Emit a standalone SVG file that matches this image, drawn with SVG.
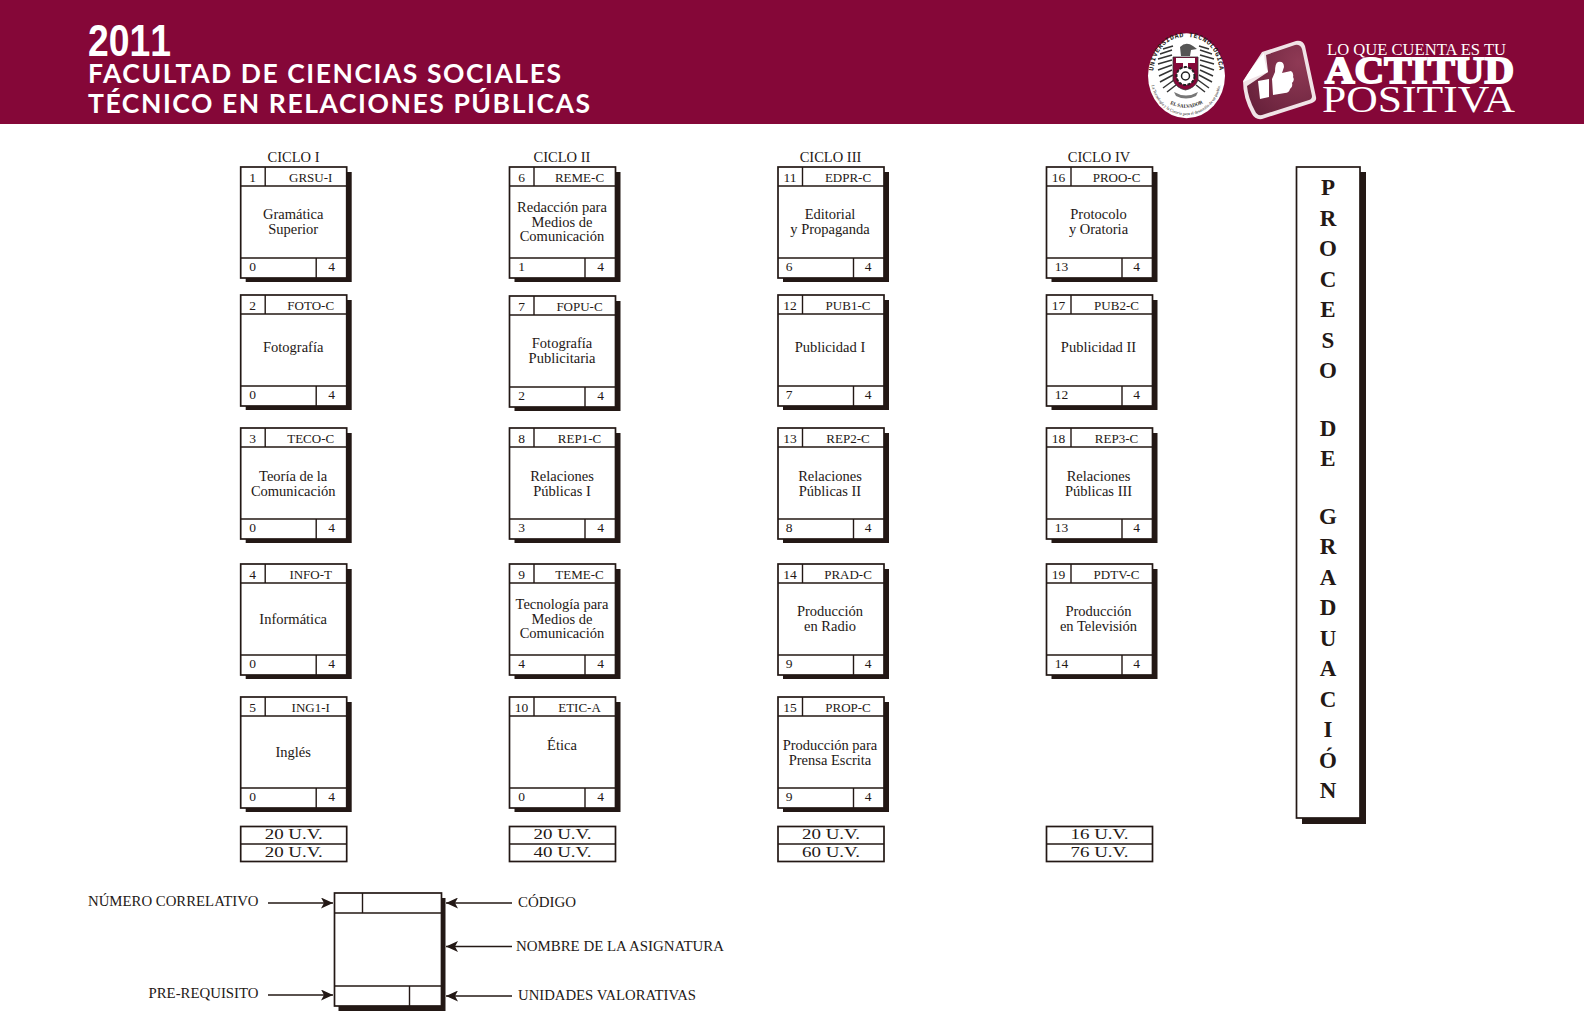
<svg xmlns="http://www.w3.org/2000/svg" width="1584" height="1015" viewBox="0 0 1584 1015">
<style>
text{font-family:"Liberation Serif","Times New Roman",serif;fill:#231815;text-anchor:middle;font-size:14.5px}
.c{font-size:13px}
.n{font-size:13.5px}
.lg{font-size:14px;text-anchor:start}
.tot{font-size:15px}
.bn{font-size:23px;font-weight:bold}
.ln{stroke:#231815;stroke-width:1.4;fill:none}
.fr{stroke:#231815;stroke-width:1.7;fill:#fff}
.sh{fill:#231815}
.hd{font-family:"Lato","Open Sans",sans-serif;font-weight:700;font-size:26.500px;fill:#fff;text-anchor:start}
.wh{fill:#fff;text-anchor:start}
.ar{stroke:#231815;stroke-width:1.5;fill:none;marker-end:url(#ah)}
.fe{stroke:#333;stroke-width:1.500;fill:none}
</style>
<defs>
<marker id="ah" markerUnits="userSpaceOnUse" markerWidth="13" markerHeight="11" refX="12" refY="5.5" orient="auto"><path d="M0 0L12 5.5L0 11L3 5.5Z" fill="#231815"/></marker>
<g id="box">
<rect class="sh" x="5" y="5" width="106" height="110"/>
<rect class="fr" width="106" height="111"/>
<path class="ln" d="M0 19H106M24.5 0V19M0 91H106M75.5 91V111"/>
</g>
<g id="tot"><rect class="fr" width="106" height="35"/><path class="ln" d="M0 17.5H106"/></g>
<radialGradient id="st" cx="0.8" cy="0.25" r="1"><stop offset="0" stop-color="#8f3a55"/><stop offset="1" stop-color="#66203a"/></radialGradient>
<path id="arcT" d="M1153 78C1153 50 1167 37 1186 37C1206 37 1220 50 1220 78"/>
<path id="arcB" d="M1150 72C1150 100 1168 117 1190 115C1206 113 1222 100 1222 72"/>
<path id="arcS" d="M1168 103Q1187 113 1205 102"/>
</defs>
<rect id="banner" width="1584" height="124" fill="#850738"/>
<text x="88" y="56" class="wh" style="font-family:'Liberation Sans Narrow','Liberation Sans',sans-serif;font-weight:700;font-size:45px;font-kerning:none" textLength="83" lengthAdjust="spacingAndGlyphs">2011</text>
<text x="88" y="83" class="hd" textLength="473" lengthAdjust="spacing">FACULTAD DE CIENCIAS SOCIALES</text>
<text x="88" y="112.500" class="hd" textLength="502" lengthAdjust="spacing">TÉCNICO EN RELACIONES PÚBLICAS</text>

<g id="seal">
<ellipse cx="1186.500" cy="75.700" rx="38.500" ry="42.500" fill="#fff"/>
<text style="font-size:6.800px;font-weight:bold;letter-spacing:.5px;font-family:'Liberation Mono',monospace"><textPath href="#arcT" startOffset="50%">UNIVERSIDAD TECNOLOGICA</textPath></text>
<text style="font-size:4.200px"><textPath href="#arcB" startOffset="50%">La Tecnología y la Ciencia para el desarrollo de un pueblo.</textPath></text>
<text style="font-size:5px;font-weight:bold"><textPath href="#arcS" startOffset="50%">EL SALVADOR</textPath></text>
<path class="fe" d="M1173 46L1163 49M1172 50L1160 54M1172 55L1158 59M1172 60L1158 64M1172 65L1158 70M1172 70L1159 76M1173 75L1160 82M1174 80L1163 88M1176 85L1167 92"/>
<path class="fe" d="M1199 46L1209 49M1200 50L1212 54M1200 55L1214 59M1200 60L1214 64M1200 65L1214 70M1200 70L1213 76M1199 75L1212 82M1198 80L1209 88M1196 85L1205 92"/>
<path d="M1180 47Q1186 41 1193 46L1197 49L1191 50L1190 56H1181Z" fill="#555"/>
<path d="M1173 57H1198V80Q1195 88 1185.500 90Q1176 88 1173 80Z" fill="#850738" stroke="#333" stroke-width=".8"/>
<path d="M1176 58H1195V63H1188V67H1183V63H1176Z" fill="#fff"/>
<circle cx="1185.500" cy="76" r="9" fill="#fff" stroke="#222" stroke-width="2" stroke-dasharray="3 1.500"/>
<circle cx="1185.500" cy="76" r="4" fill="none" stroke="#222" stroke-width="1.500"/>
<path d="M1174 92Q1186 99 1198 92L1196 96Q1186 101 1176 96Z" fill="#777"/>
</g>
<g id="sticker">
<path d="M1262 52L1296 41Q1303 40 1305 46L1316 97Q1317 101 1312 103L1262 119Q1255 120 1252 114Q1243 98 1243 81Z" fill="#f0e3e6"/>
<path d="M1266 55L1295 45Q1300 44 1302 49L1312 96Q1312 99 1309 100L1262 115Q1257 116 1255 111Q1248 98 1247 86L1268 72Z" fill="url(#st)"/>
<path d="M1264 53Q1252 66 1243 82Q1258 76 1268 72Q1264 62 1264 53Z" fill="#fff"/>
<path d="M1258 81L1269 79V97L1260 99ZM1272 79L1275 72Q1275 63 1278 62Q1284 61 1284 67L1282 73L1291 71Q1294 73 1293 77Q1295 80 1292 83Q1293 87 1290 89Q1289 93 1285 93L1273 95Z" fill="#fff"/>
</g>
<text x="1327" y="55" class="wh" style="font-size:17.500px" textLength="179" lengthAdjust="spacingAndGlyphs">LO QUE CUENTA ES TU</text>
<text x="1325" y="83" class="wh" style="font-size:37px;font-weight:bold;stroke:#fff;stroke-width:1.800" textLength="189" lengthAdjust="spacingAndGlyphs">ACTITUD</text>
<text x="1322" y="112" class="wh" style="font-size:38px" textLength="193" lengthAdjust="spacingAndGlyphs">POSITIVA</text>

<g id="headers">
<text x="293.500" y="162">CICLO I</text>
<text x="562" y="162">CICLO II</text>
<text x="830.500" y="162">CICLO III</text>
<text x="1099" y="162">CICLO IV</text>
</g>

<g id="n1" transform="translate(240.700 167)"><use href="#box"/><text class="n" x="12" y="14.500">1</text><text class="c" x="70" y="14.500">GRSU-I</text><text x="52.500" y="52">Gramática</text><text x="52.500" y="67">Superior</text><text class="n" x="12" y="104">0</text><text class="n" x="91" y="104">4</text></g>
<g id="n2" transform="translate(240.700 295)"><use href="#box"/><text class="n" x="12" y="14.500">2</text><text class="c" x="70" y="14.500">FOTO-C</text><text x="52.500" y="57">Fotografía</text><text class="n" x="12" y="104">0</text><text class="n" x="91" y="104">4</text></g>
<g id="n3" transform="translate(240.700 428)"><use href="#box"/><text class="n" x="12" y="14.500">3</text><text class="c" x="70" y="14.500">TECO-C</text><text x="52.500" y="53">Teoría de la</text><text x="52.500" y="68">Comunicación</text><text class="n" x="12" y="104">0</text><text class="n" x="91" y="104">4</text></g>
<g id="n4" transform="translate(240.700 564)"><use href="#box"/><text class="n" x="12" y="14.500">4</text><text class="c" x="70" y="14.500">INFO-T</text><text x="52.500" y="60">Informática</text><text class="n" x="12" y="104">0</text><text class="n" x="91" y="104">4</text></g>
<g id="n5" transform="translate(240.700 697)"><use href="#box"/><text class="n" x="12" y="14.500">5</text><text class="c" x="70" y="14.500">ING1-I</text><text x="52.500" y="60">Inglés</text><text class="n" x="12" y="104">0</text><text class="n" x="91" y="104">4</text></g>

<g id="n6" transform="translate(509.500 167)"><use href="#box"/><text class="n" x="12" y="14.500">6</text><text class="c" x="70" y="14.500">REME-C</text><text x="52.500" y="45">Redacción para</text><text x="52.500" y="60">Medios de</text><text x="52.500" y="74">Comunicación</text><text class="n" x="12" y="104">1</text><text class="n" x="91" y="104">4</text></g>
<g id="n7" transform="translate(509.500 296)"><use href="#box"/><text class="n" x="12" y="14.500">7</text><text class="c" x="70" y="14.500">FOPU-C</text><text x="52.500" y="52">Fotografía</text><text x="52.500" y="67">Publicitaria</text><text class="n" x="12" y="104">2</text><text class="n" x="91" y="104">4</text></g>
<g id="n8" transform="translate(509.500 428)"><use href="#box"/><text class="n" x="12" y="14.500">8</text><text class="c" x="70" y="14.500">REP1-C</text><text x="52.500" y="53">Relaciones</text><text x="52.500" y="68">Públicas I</text><text class="n" x="12" y="104">3</text><text class="n" x="91" y="104">4</text></g>
<g id="n9" transform="translate(509.500 564)"><use href="#box"/><text class="n" x="12" y="14.500">9</text><text class="c" x="70" y="14.500">TEME-C</text><text x="52.500" y="45">Tecnología para</text><text x="52.500" y="60">Medios de</text><text x="52.500" y="74">Comunicación</text><text class="n" x="12" y="104">4</text><text class="n" x="91" y="104">4</text></g>
<g id="n10" transform="translate(509.500 697)"><use href="#box"/><text class="n" x="12" y="14.500">10</text><text class="c" x="70" y="14.500">ETIC-A</text><text x="52.500" y="53">Ética</text><text class="n" x="12" y="104">0</text><text class="n" x="91" y="104">4</text></g>

<g id="n11" transform="translate(778 167)"><use href="#box"/><text class="n" x="12" y="14.500">11</text><text class="c" x="70" y="14.500">EDPR-C</text><text x="52" y="52">Editorial</text><text x="52" y="67">y Propaganda</text><text class="n" x="11" y="104">6</text><text class="n" x="90" y="104">4</text></g>
<g id="n12" transform="translate(778 295)"><use href="#box"/><text class="n" x="12" y="14.500">12</text><text class="c" x="70" y="14.500">PUB1-C</text><text x="52" y="57">Publicidad I</text><text class="n" x="11" y="104">7</text><text class="n" x="90" y="104">4</text></g>
<g id="n13" transform="translate(778 428)"><use href="#box"/><text class="n" x="12" y="14.500">13</text><text class="c" x="70" y="14.500">REP2-C</text><text x="52" y="53">Relaciones</text><text x="52" y="68">Públicas II</text><text class="n" x="11" y="104">8</text><text class="n" x="90" y="104">4</text></g>
<g id="n14" transform="translate(778 564)"><use href="#box"/><text class="n" x="12" y="14.500">14</text><text class="c" x="70" y="14.500">PRAD-C</text><text x="52" y="52">Producción</text><text x="52" y="67">en Radio</text><text class="n" x="11" y="104">9</text><text class="n" x="90" y="104">4</text></g>
<g id="n15" transform="translate(778 697)"><use href="#box"/><text class="n" x="12" y="14.500">15</text><text class="c" x="70" y="14.500">PROP-C</text><text x="52" y="53">Producción para</text><text x="52" y="68">Prensa Escrita</text><text class="n" x="11" y="104">9</text><text class="n" x="90" y="104">4</text></g>

<g id="n16" transform="translate(1046.500 167)"><use href="#box"/><text class="n" x="12" y="14.500">16</text><text class="c" x="70" y="14.500">PROO-C</text><text x="52" y="52">Protocolo</text><text x="52" y="67">y Oratoria</text><text class="n" x="15" y="104">13</text><text class="n" x="90" y="104">4</text></g>
<g id="n17" transform="translate(1046.500 295)"><use href="#box"/><text class="n" x="12" y="14.500">17</text><text class="c" x="70" y="14.500">PUB2-C</text><text x="52" y="57">Publicidad II</text><text class="n" x="15" y="104">12</text><text class="n" x="90" y="104">4</text></g>
<g id="n18" transform="translate(1046.500 428)"><use href="#box"/><text class="n" x="12" y="14.500">18</text><text class="c" x="70" y="14.500">REP3-C</text><text x="52" y="53">Relaciones</text><text x="52" y="68">Públicas III</text><text class="n" x="15" y="104">13</text><text class="n" x="90" y="104">4</text></g>
<g id="n19" transform="translate(1046.500 564)"><use href="#box"/><text class="n" x="12" y="14.500">19</text><text class="c" x="70" y="14.500">PDTV-C</text><text x="52" y="52">Producción</text><text x="52" y="67">en Televisión</text><text class="n" x="15" y="104">14</text><text class="n" x="90" y="104">4</text></g>

<g id="t1" transform="translate(240.700 826.500)"><use href="#tot"/><text class="tot" x="53" y="12.500" textLength="58" lengthAdjust="spacingAndGlyphs">20 U.V.</text><text class="tot" x="53" y="30" textLength="58" lengthAdjust="spacingAndGlyphs">20 U.V.</text></g>
<g id="t2" transform="translate(509.500 826.500)"><use href="#tot"/><text class="tot" x="53" y="12.500" textLength="58" lengthAdjust="spacingAndGlyphs">20 U.V.</text><text class="tot" x="53" y="30" textLength="58" lengthAdjust="spacingAndGlyphs">40 U.V.</text></g>
<g id="t3" transform="translate(778 826.500)"><use href="#tot"/><text class="tot" x="53" y="12.500" textLength="58" lengthAdjust="spacingAndGlyphs">20 U.V.</text><text class="tot" x="53" y="30" textLength="58" lengthAdjust="spacingAndGlyphs">60 U.V.</text></g>
<g id="t4" transform="translate(1046.500 826.500)"><use href="#tot"/><text class="tot" x="53" y="12.500" textLength="58" lengthAdjust="spacingAndGlyphs">16 U.V.</text><text class="tot" x="53" y="30" textLength="58" lengthAdjust="spacingAndGlyphs">76 U.V.</text></g>

<g id="proceso">
<rect class="sh" x="1302" y="172" width="64" height="652"/>
<rect class="fr" x="1296.500" y="167" width="63.500" height="651"/>
<text class="bn" x="1328" y="195">P</text><text class="bn" x="1328" y="226">R</text><text class="bn" x="1328" y="256">O</text><text class="bn" x="1328" y="287">C</text><text class="bn" x="1328" y="317">E</text><text class="bn" x="1328" y="348">S</text><text class="bn" x="1328" y="378">O</text><text class="bn" x="1328" y="436">D</text><text class="bn" x="1328" y="466">E</text><text class="bn" x="1328" y="524">G</text><text class="bn" x="1328" y="554">R</text><text class="bn" x="1328" y="585">A</text><text class="bn" x="1328" y="615">D</text><text class="bn" x="1328" y="646">U</text><text class="bn" x="1328" y="676">A</text><text class="bn" x="1328" y="707">C</text><text class="bn" x="1328" y="737">I</text><text class="bn" x="1328" y="768">Ó</text><text class="bn" x="1328" y="798">N</text>
</g>

<g id="legend" transform="translate(334.500 893)">
<rect class="sh" x="4" y="5" width="107" height="113"/>
<rect class="fr" width="107" height="113"/>
<path class="ln" d="M0 20H107M28 0V20M0 93H107M75 93V113"/>
</g>
<g id="connectors">
<path class="ar" d="M268 903H333"/>
<path class="ar" d="M268 995H333"/>
<path class="ar" d="M512 903H446"/>
<path class="ar" d="M512 946.500H446"/>
<path class="ar" d="M512 996H446"/>
</g>
<g id="legend-labels">
<text class="lg" x="88" y="906" textLength="170.500" lengthAdjust="spacingAndGlyphs">NÚMERO CORRELATIVO</text>
<text class="lg" x="148.500" y="998" textLength="110" lengthAdjust="spacingAndGlyphs">PRE-REQUISITO</text>
<text class="lg" x="518" y="907" textLength="58" lengthAdjust="spacingAndGlyphs">CÓDIGO</text>
<text class="lg" x="516" y="951" textLength="208" lengthAdjust="spacingAndGlyphs">NOMBRE DE LA ASIGNATURA</text>
<text class="lg" x="518" y="1000" textLength="178" lengthAdjust="spacingAndGlyphs">UNIDADES VALORATIVAS</text>
</g>
</svg>
